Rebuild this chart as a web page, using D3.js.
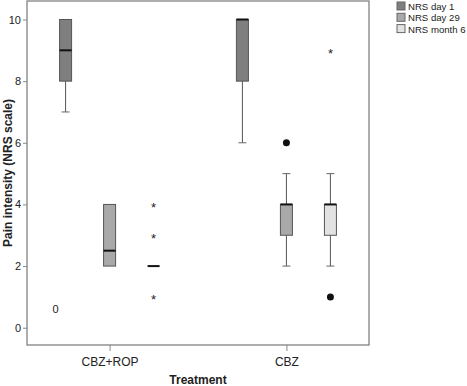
<!DOCTYPE html>
<html>
<head>
<meta charset="utf-8">
<script src="https://cdn.jsdelivr.net/npm/d3@7"></script>
<style>
  body { margin: 0; background: #fff; }
  svg text { font-family: "Liberation Sans", Arial, sans-serif; fill: #222; }
</style>
</head>
<body>
<div id="chart"></div>
<script>
// data
const treatments = ["CBZ+ROP", "CBZ"];
const seriesNames = ["NRS day 1", "NRS day 29", "NRS month 6"];
const seriesColors = ["#7f7f7f", "#a9a9a9", "#e2e2e2"];
const yTicks = [0, 2, 4, 6, 8, 10];

// [lowWhisker, q1, median, q3, highWhisker] per treatment, per series
const rop = [[7, 8, 9, 10, 10], [2, 2, 2.5, 4, 4], [2, 2, 2, 2, 2]];
const cbz = [[6, 8, 10, 10, 10], [2, 3, 4, 4, 5], [2, 3, 4, 4, 5]];

// outliers: [treatment, series, value, symbol]
const outliers = [
  ["CBZ+ROP", 0, 0.6, "0"],
  ["CBZ+ROP", 2, 4, "*"],
  ["CBZ+ROP", 2, 3, "*"],
  ["CBZ+ROP", 2, 1, "*"],
  ["CBZ", 1, 6, "dot"],
  ["CBZ", 2, 9, "*"],
  ["CBZ", 2, 1, "dot"]
];

const width = 467, height = 386;
const margin = {top: 1, right: 98, bottom: 41, left: 27};
const plotW = width - margin.left - margin.right;
const plotH = height - margin.top - margin.bottom;

const svg = d3.select("#chart").append("svg")
  .attr("width", width)
  .attr("height", height);

const g = svg.append("g")
  .attr("transform", `translate(${margin.left}, ${margin.top})`);

const x = d3.scalePoint()
  .domain(treatments)
  .range([0, plotW])
  .padding(0.467);

const xInner = d3.scalePoint()
  .domain(seriesNames)
  .range([-44, 44]);

const y = d3.scaleLinear()
  .domain([-0.56, 10.6])
  .range([plotH, 0]);

// frame
g.append("rect")
  .attr("x", 0).attr("y", 0)
  .attr("width", plotW).attr("height", plotH)
  .attr("fill", "none")
  .attr("stroke", "#777")
  .attr("stroke-width", 1.2);

const yAxis = g.append("g")
  .call(d3.axisLeft(y).tickValues(yTicks).tickSize(4).tickPadding(2));
yAxis.select(".domain").remove();
yAxis.selectAll("line").attr("stroke", "#888");
yAxis.selectAll("text").style("font-size", "11px").attr("fill", "#444");

const xAxis = g.append("g")
  .attr("transform", `translate(0, ${plotH})`)
  .call(d3.axisBottom(x).tickSize(6).tickPadding(6));
xAxis.select(".domain").remove();
xAxis.selectAll("line").attr("stroke", "#888");
xAxis.selectAll("text").style("font-size", "12px").attr("fill", "#333");

const boxW = 12;
const boxes = [];
treatments.forEach((t, ti) => {
  const stats = ti === 0 ? rop : cbz;
  stats.forEach((s, si) => boxes.push({t: t, si: si, s: s}));
});

const bx = d => x(d.t) + xInner(seriesNames[d.si]);

const bg = g.selectAll(".box")
  .data(boxes)
  .enter().append("g")
    .classed("box", true);

// whiskers
bg.append("line")
  .attr("x1", bx).attr("x2", bx)
  .attr("y1", d => y(d.s[0])).attr("y2", d => y(d.s[1]))
  .attr("stroke", "#555");
bg.append("line")
  .attr("x1", bx).attr("x2", bx)
  .attr("y1", d => y(d.s[3])).attr("y2", d => y(d.s[4]))
  .attr("stroke", "#555");
bg.filter(d => d.s[0] < d.s[1]).append("line")
  .attr("x1", d => bx(d) - 4).attr("x2", d => bx(d) + 4)
  .attr("y1", d => y(d.s[0])).attr("y2", d => y(d.s[0]))
  .attr("stroke", "#666");
bg.filter(d => d.s[4] > d.s[3]).append("line")
  .attr("x1", d => bx(d) - 4).attr("x2", d => bx(d) + 4)
  .attr("y1", d => y(d.s[4])).attr("y2", d => y(d.s[4]))
  .attr("stroke", "#666");

bg.filter(d => d.s[3] > d.s[1]).append("rect")
  .attr("x", d => bx(d) - boxW / 2)
  .attr("y", d => y(d.s[3]))
  .attr("width", boxW)
  .attr("height", d => y(d.s[1]) - y(d.s[3]))
  .attr("fill", d => seriesColors[d.si])
  .attr("stroke", "#555")
  .attr("stroke-width", 1);

bg.append("line")
  .attr("x1", d => bx(d) - boxW / 2).attr("x2", d => bx(d) + boxW / 2)
  .attr("y1", d => y(d.s[2])).attr("y2", d => y(d.s[2]))
  .attr("stroke", "#111")
  .attr("stroke-width", 2);

// outliers
const og = g.selectAll(".outlier")
  .data(outliers)
  .enter().append("g")
    .classed("outlier", true)
    .attr("transform", d => `translate(${x(d[0]) + xInner(seriesNames[d[1]])}, ${y(d[2])})`);

og.filter(d => d[3] === "dot").append("circle")
  .attr("r", 3.5)
  .attr("fill", "#111");

og.filter(d => d[3] === "*").append("text")
  .attr("text-anchor", "middle")
  .attr("dy", "0.58em")
  .style("font-size", "13px")
  .attr("fill", "#333")
  .text("*");

og.filter(d => d[3] === "0").append("text")
  .attr("text-anchor", "middle")
  .attr("dx", -10)
  .attr("dy", "0.35em")
  .style("font-size", "11px")
  .attr("fill", "#333")
  .text("0");

// axis titles
svg.append("text")
  .attr("transform", `translate(12, ${margin.top + plotH / 2}) rotate(-90)`)
  .attr("text-anchor", "middle")
  .style("font-size", "12px")
  .style("font-weight", "bold")
  .text("Pain intensity (NRS scale)");

svg.append("text")
  .attr("x", margin.left + plotW / 2)
  .attr("y", 384)
  .attr("text-anchor", "middle")
  .style("font-size", "12px")
  .style("font-weight", "bold")
  .text("Treatment");

// legend
const lg = svg.selectAll(".legend")
  .data(seriesNames)
  .enter().append("g")
    .classed("legend", true)
    .attr("transform", (d, i) => `translate(397, ${2 + i * 11.3})`);

lg.append("rect")
  .attr("width", 8).attr("height", 8)
  .attr("fill", (d, i) => seriesColors[i])
  .attr("stroke", "#666");

lg.append("text")
  .attr("x", 11)
  .attr("y", 8)
  .style("font-size", "9.6px")
  .attr("fill", "#333")
  .text(d => d);
</script>
</body>
</html>
